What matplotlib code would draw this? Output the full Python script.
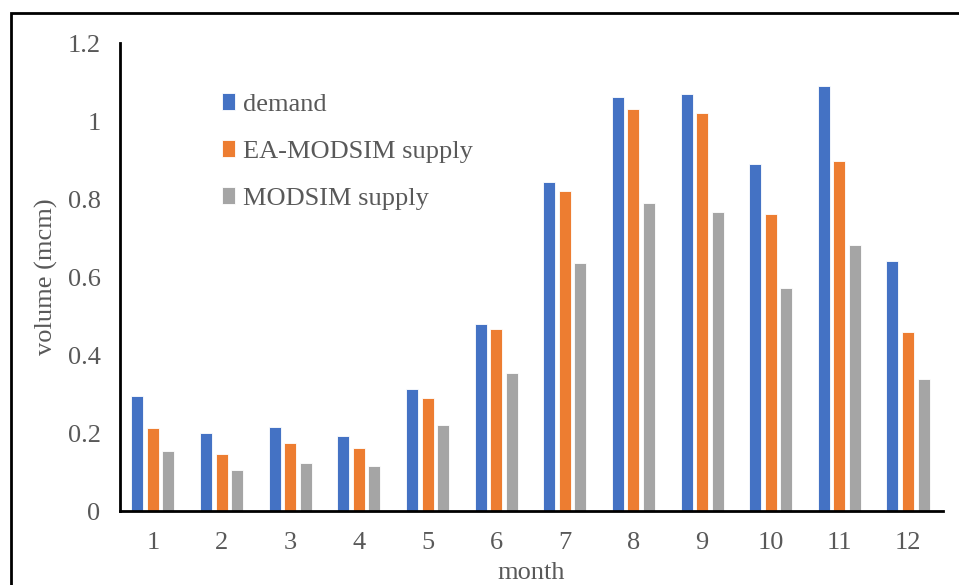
from matplotlib import pyplot as plt
from matplotlib.patches import Rectangle
import numpy as np

months = [1, 2, 3, 4, 5, 6, 7, 8, 9, 10, 11, 12]
demand = [0.295, 0.199, 0.216, 0.193, 0.312, 0.479, 0.844, 1.061, 1.068, 0.890, 1.091, 0.640]
ea_modsim = [0.213, 0.147, 0.174, 0.161, 0.289, 0.466, 0.821, 1.032, 1.021, 0.762, 0.897, 0.459]
modsim = [0.154, 0.104, 0.124, 0.115, 0.220, 0.355, 0.637, 0.789, 0.766, 0.572, 0.683, 0.338]

plt.rcParams['font.family'] = ['Liberation Serif', 'DejaVu Serif']
text_gray = '#595959'
fs = 19

fig = plt.figure(figsize=(9.59, 5.85), dpi=100)
ax = fig.add_axes([120 / 959, 74 / 585, 823 / 959, 468 / 585])

x = np.array(months)
step = 0.226
width = 0.175
ax.bar(x - step, demand, width, color='#4472C4', edgecolor='white', linewidth=0.6, label='demand')
ax.bar(x, ea_modsim, width, color='#ED7D31', edgecolor='white', linewidth=0.6, label='EA-MODSIM supply')
ax.bar(x + step, modsim, width, color='#A5A5A5', edgecolor='white', linewidth=0.6, label='MODSIM supply')

ax.set_xlim(0.52, 12.51)
ax.set_ylim(0, 1.2)
ax.set_xticks(months)
ax.set_yticks([0, 0.2, 0.4, 0.6, 0.8, 1.0, 1.2])
ax.set_yticklabels(['0', '0.2', '0.4', '0.6', '0.8', '1', '1.2'])
ax.tick_params(length=0, labelsize=fs, colors=text_gray)
ax.tick_params(axis='x', pad=15)
ax.tick_params(axis='y', pad=14)

for side in ['top', 'right']:
    ax.spines[side].set_visible(False)
ax.spines['left'].set_linewidth(2)
ax.spines['bottom'].set_linewidth(2)

ax.set_xlabel('month', fontsize=fs, color=text_gray, labelpad=6)
ax.set_ylabel('volume (mcm)', fontsize=fs, color=text_gray, labelpad=7)

ax.legend(loc='upper left', bbox_to_anchor=(0.095, 0.943), frameon=False, fontsize=fs,
          labelcolor=text_gray, handlelength=0.5, handleheight=0.6, handletextpad=0.3,
          labelspacing=0.92)

# outer frame
fig.patches.append(Rectangle((11 / 959, -0.1), 1.1, 1 - 13 / 585 + 0.1,
                             transform=fig.transFigure, fill=False,
                             edgecolor='black', linewidth=2))

plt.savefig('out.png', dpi=100)
